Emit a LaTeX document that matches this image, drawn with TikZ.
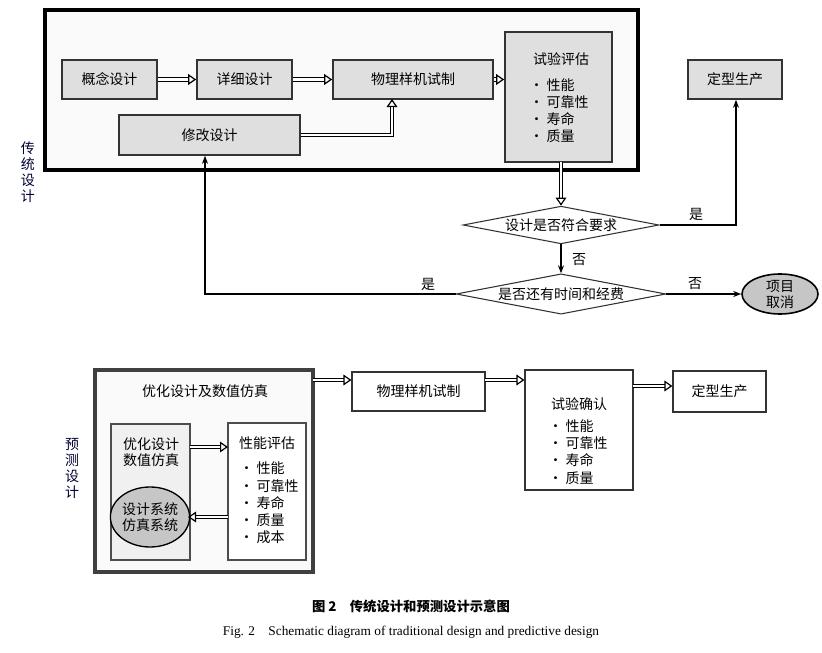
\documentclass[tikz,border=0pt]{standalone}
\usepackage{fontspec}
\setmainfont{Liberation Serif}
\newfontfamily\cjk{Noto Sans CJK SC}
\usetikzlibrary{arrows.meta,shapes.geometric}
\begin{document}
\begin{tikzpicture}[x=0.75pt,y=-0.75pt,
 box/.style={draw=black!80,line width=1.2pt,fill=gray!25,font=\cjk\fontsize{10.5}{12}\selectfont},
 wbox/.style={draw=black!80,line width=0.8pt,fill=white,font=\cjk\fontsize{10.5}{12}\selectfont},
 txt/.style={font=\cjk\fontsize{10.5}{12}\selectfont,inner sep=1pt},
 dbl/.style={draw=black,double=white,double distance=1.8pt,line width=0.9pt,-{Triangle[open,length=6pt,width=8pt]}},
 sgl/.style={draw=black,line width=1pt,-{Stealth[length=6pt]}},
 dia/.style={diamond,aspect=5.2,draw=black!80,line width=0.8pt,fill=white,inner sep=1pt,font=\cjk\fontsize{10.5}{12}\selectfont}]
\useasboundingbox (0,0) rectangle (822,653);
% traditional
\draw[line width=3pt,fill=gray!4] (45,10) rectangle (638,170);
\node[box,minimum width=95*0.75pt,minimum height=39*0.75pt] (a) at (109.5,79.5) {概念设计};
\node[box,minimum width=95*0.75pt,minimum height=39*0.75pt] (b) at (244.5,79.5) {详细设计};
\node[box,minimum width=160*0.75pt,minimum height=39*0.75pt] (c) at (413,79.5) {物理样机试制};
\node[box,minimum width=181*0.75pt,minimum height=40*0.75pt] (d) at (209.5,135) {修改设计};
\node[box,minimum width=107*0.75pt,minimum height=130*0.75pt] (e) at (558.5,97) {};
\node[txt] (e0) at (561,59) {试验评估};
\node[txt,anchor=west] (e1) at (528,85) {· 性能};
\node[txt,anchor=west] (e2) at (528,102) {· 可靠性};
\node[txt,anchor=west] (e3) at (528,119) {· 寿命};
\node[txt,anchor=west] (e4) at (528,136) {· 质量};
\node[box,minimum width=94*0.75pt,minimum height=39*0.75pt] (f) at (735,79.5) {定型生产};
\node[dia] (g) at (561,225) {设计是否符合要求};
\node[dia] (h) at (561,294) {是否还有时间和经费};
\node[ellipse,draw=black,line width=1.2pt,fill=gray!45,minimum width=76*0.75pt,minimum height=40*0.75pt,inner sep=0pt,align=center,font=\cjk\fontsize{10.5}{12}\selectfont] (k) at (780,294) {项目\\取消};
\node[txt,align=center,text=black!80!blue] (t1) at (28,172) {传\\统\\设\\计};
\draw[dbl] (a.east) -- (b.west);
\draw[dbl] (b.east) -- (c.west);
\draw[dbl] (c.east) -- (e.west|-c.east);
\draw[dbl] (d.east) -- (392,135) -- (392,99);
\draw[dbl] (561,162) -- (g.north);
\draw[sgl] (g.east) -- (736,225) -- (f.south-|736,0);
\node[txt] (l1) at (696,214) {是};
\draw[sgl] (g.south) -- (h.north);
\node[txt] (l2) at (579,260) {否};
\draw[sgl] (h.west) -- (205,294) -- (d.south-|205,0);
\node[txt] (l3) at (428,284) {是};
\draw[sgl] (h.east) -- (k.west);
\node[txt] (l4) at (695,284) {否};
% predictive
\draw[line width=2.5pt,draw=black!75,fill=gray!4] (95,370) rectangle (313,572);
\coordinate (pr) at (313,380);
\node[txt] (p0) at (205,391) {优化设计及数值仿真};
\node[draw=black!70,line width=0.8pt,fill=gray!12,minimum width=79*0.75pt,minimum height=136*0.75pt] (p1) at (150.5,492) {};
\node[txt,align=center] (p1t) at (151,452) {优化设计\\数值仿真};
\node[ellipse,draw=black,line width=1pt,fill=gray!45,minimum width=70*0.75pt,minimum height=60*0.75pt,inner sep=0pt,align=center,font=\cjk\fontsize{10.5}{12}\selectfont] (p2) at (150,517) {设计系统\\仿真系统};
\node[draw=black!70,line width=0.8pt,fill=white,minimum width=78*0.75pt,minimum height=137*0.75pt] (p3) at (267,491.5) {};
\node[txt] (p30) at (267,443) {性能评估};
\node[txt,anchor=west] (p31) at (238,468) {· 性能};
\node[txt,anchor=west] (p32) at (238,486) {· 可靠性};
\node[txt,anchor=west] (p33) at (238,503) {· 寿命};
\node[txt,anchor=west] (p34) at (238,520) {· 质量};
\node[txt,anchor=west] (p35) at (238,537) {· 成本};
\draw[dbl] (190,447) -- (228,447);
\draw[dbl] (228,517) -- (188,517);
\node[wbox,minimum width=133*0.75pt,minimum height=39*0.75pt] (q) at (418.5,391.5) {物理样机试制};
\node[wbox,minimum width=108*0.75pt,minimum height=120*0.75pt] (r) at (579,430) {};
\node[txt] (r0) at (579,404) {试验确认};
\node[txt,anchor=west] (r1) at (547,426) {· 性能};
\node[txt,anchor=west] (r2) at (547,443) {· 可靠性};
\node[txt,anchor=west] (r3) at (547,460) {· 寿命};
\node[txt,anchor=west] (r4) at (547,478) {· 质量};
\node[wbox,minimum width=93*0.75pt,minimum height=41*0.75pt] (s) at (719.5,391.5) {定型生产};
\node[txt,align=center,text=black!80!blue] (t2) at (72,468) {预\\测\\设\\计};
\draw[dbl] (pr) -- (q.west|-pr);
\draw[dbl] (485,380) -- (r.west|-0,380);
\draw[dbl] (633,386) -- (s.west|-0,386);
% captions
\node[font=\cjk\bfseries\fontsize{10}{12}\selectfont] (c1) at (411,606) {图 2\quad 传统设计和预测设计示意图};
\node[font=\fontsize{10}{12}\selectfont] (c2) at (411,632) {Fig. 2\quad Schematic diagram of traditional design and predictive design};
\end{tikzpicture}
\end{document}
